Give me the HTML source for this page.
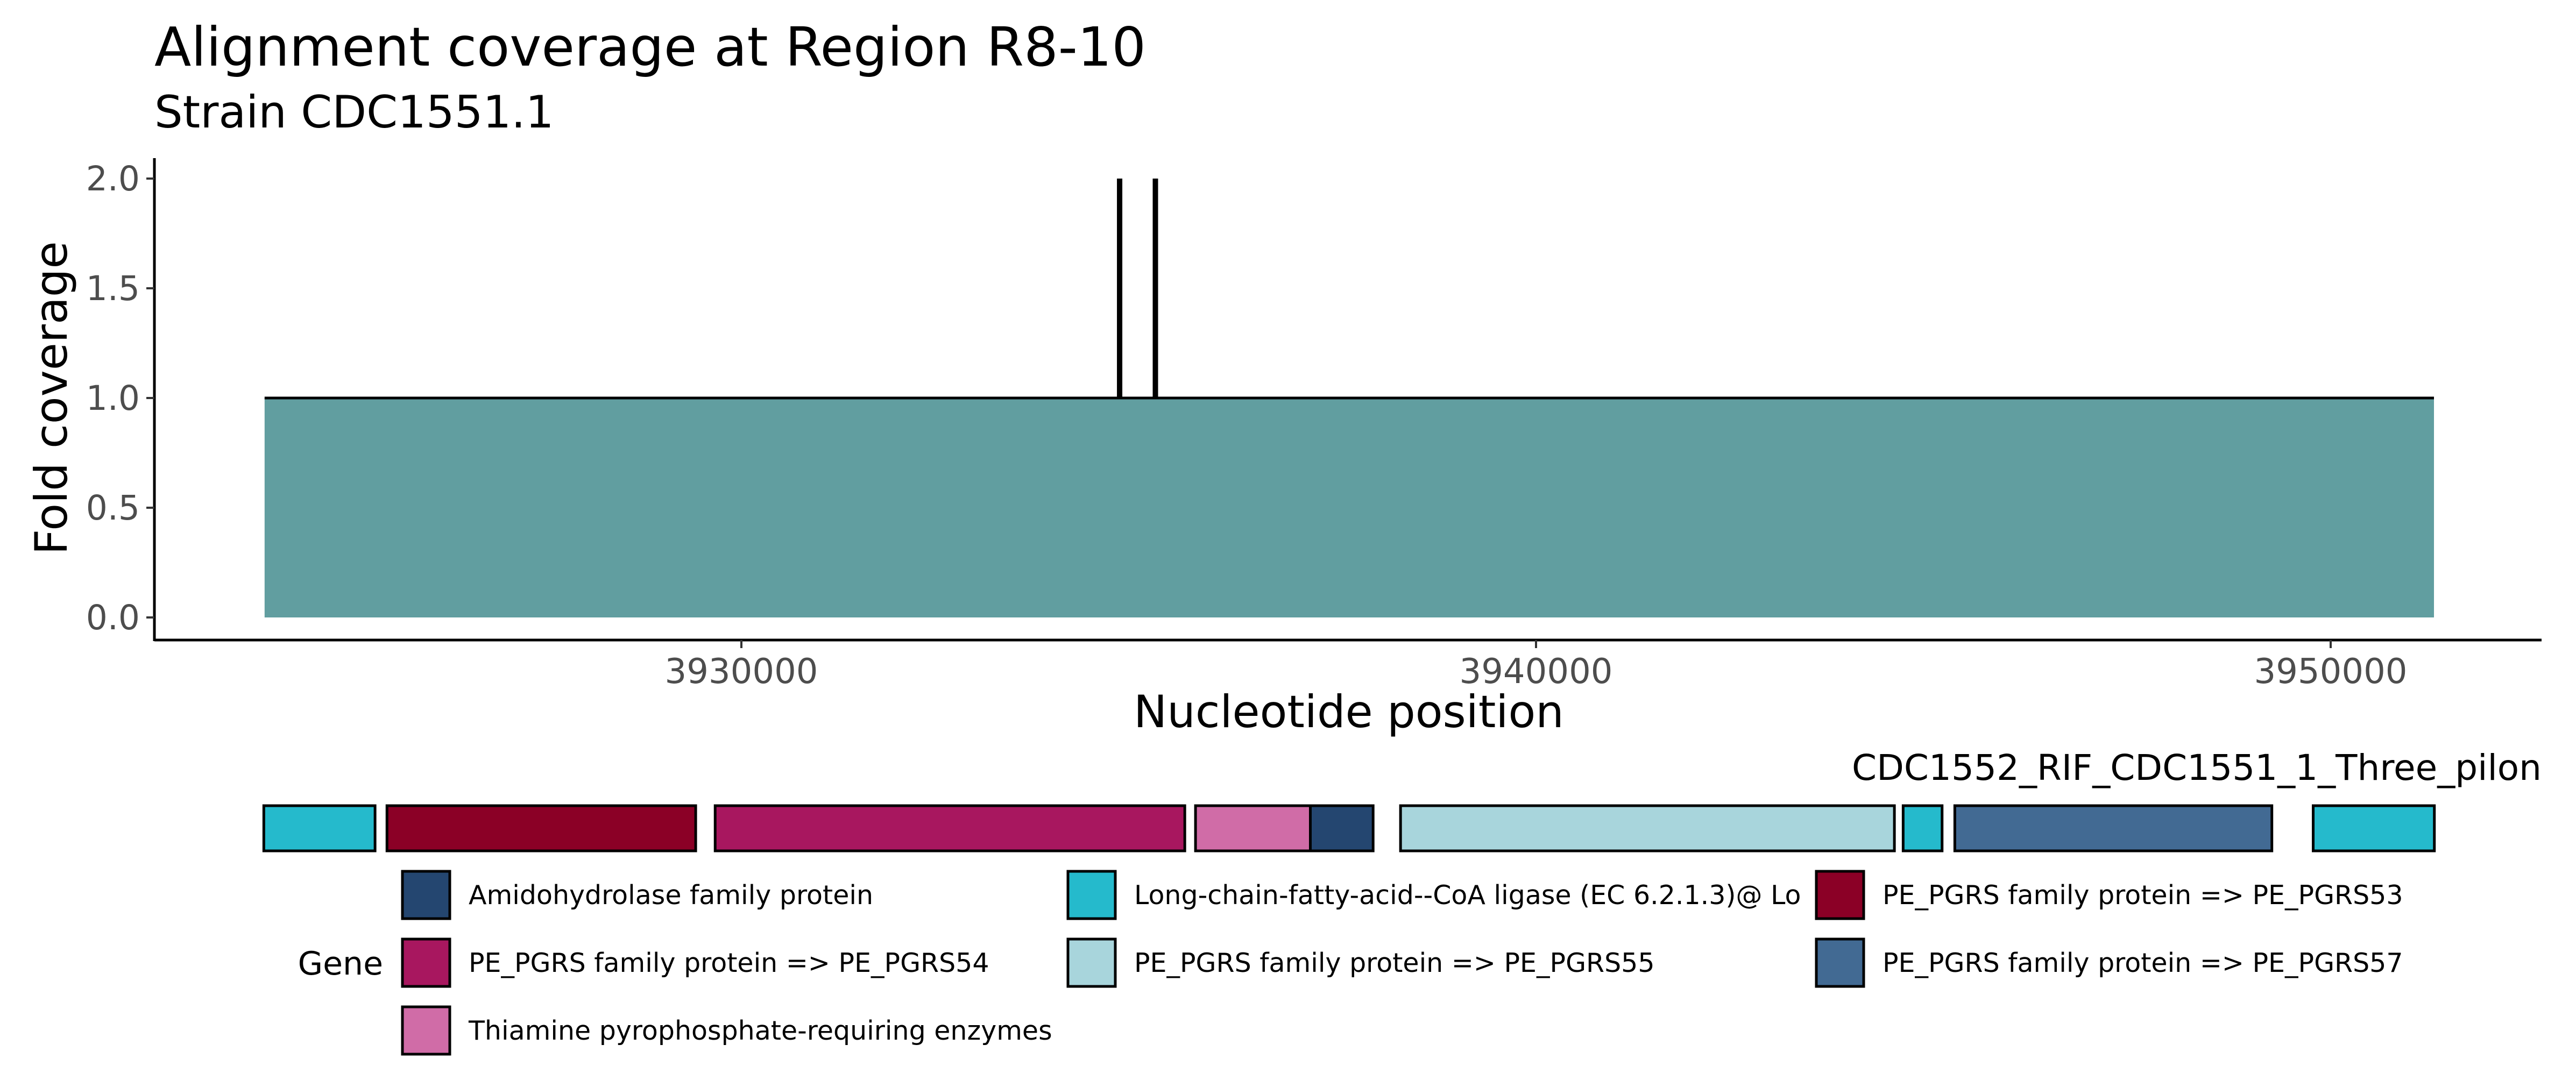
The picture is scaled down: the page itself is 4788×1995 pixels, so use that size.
<!DOCTYPE html>
<html><head><meta charset="utf-8"><style>
html,body{margin:0;padding:0;background:#fff}
svg{display:block;font-family:"DejaVu Sans","Liberation Sans",sans-serif}
</style></head><body>
<svg id="chart" width="4788" height="1995" viewBox="0 0 4788 1995">
<rect width="4788" height="1995" fill="#fff"/>
<text x="287" y="122" font-size="100" fill="#000">Alignment coverage at Region R8-10</text>
<text x="287" y="237" font-size="83" fill="#000">Strain CDC1551.1</text>
<g id="plot"></g>
<g id="xaxis"></g>
<g id="yaxis"></g>
<text x="2507" y="1352" font-size="83" text-anchor="middle">Nucleotide position</text>
<text transform="translate(124,740) rotate(-90)" font-size="83" text-anchor="middle">Fold coverage</text>
<text x="4724" y="1450" font-size="66" text-anchor="end">CDC1552_RIF_CDC1551_1_Three_pilon</text>
<g id="genes"></g>
<g id="legend"></g>
</svg>
<script>
const xTicks = [3930000, 3940000, 3950000];
const yTicks = [0, 0.5, 1.0, 1.5, 2.0];
const yTickLabels = ["0.0", "0.5", "1.0", "1.5", "2.0"];
const covStart = [3924000];
const covEnd = [3951300];
const covValue = [1];
const spikePos = [3934760, 3935210];
const spikeValue = [2, 2];
const geneStart = [3923990, 3925540, 3929670, 3935715, 3937160, 3938295, 3944620, 3945270, 3949780];
const geneEnd = [3925390, 3929425, 3935580, 3937160, 3937950, 3944510, 3945110, 3949260, 3951305];
const geneType = ["lcfa", "p53", "p54", "thi", "ami", "p55", "lcfa", "p57", "lcfa"];
const legendKeys = ["ami", "lcfa", "p53", "p54", "p55", "p57", "thi"];
const legendLabels = ["Amidohydrolase family protein", "Long-chain-fatty-acid--CoA ligase (EC 6.2.1.3)@ Lo", "PE_PGRS family protein => PE_PGRS53", "PE_PGRS family protein => PE_PGRS54", "PE_PGRS family protein => PE_PGRS55", "PE_PGRS family protein => PE_PGRS57", "Thiamine pyrophosphate-requiring enzymes"];
const colors = {ami:"#244670", lcfa:"#25bacc", p53:"#8b0026", p54:"#a8175f", p55:"#a8d5dc", p57:"#426a93", thi:"#d06ca7"};

const NS = "http://www.w3.org/2000/svg";
function X(v){ return 1378 + (v - 3930000) / 10000 * 1477; }
function Y(v){ return 1148 - v * 408; }
function mk(tag, attrs, parent){ const e = document.createElementNS(NS, tag); for (const k in attrs) e.setAttribute(k, attrs[k]); parent.appendChild(e); return e; }

const plot = document.getElementById('plot');
for (let i = 0; i < covStart.length; i++) {
  const r = mk('rect', {x: X(covStart[i]), y: Y(covValue[i]), width: X(covEnd[i]) - X(covStart[i]), height: Y(0) - Y(covValue[i]), fill: '#619ea0'}, plot);
  
  
  const l = mk('line', {x1: X(covStart[i]), x2: X(covEnd[i]), y1: Y(covValue[i]), y2: Y(covValue[i]), stroke: '#000', 'stroke-width': 5}, plot);
  
  
}
for (let i = 0; i < spikePos.length; i++) {
  const s = mk('line', {x1: X(spikePos[i]), x2: X(spikePos[i]), y1: Y(1), y2: Y(spikeValue[i]), stroke: '#000', 'stroke-width': 10}, plot);
  
  
}

const xa = document.getElementById('xaxis');
mk('line', {x1: 287, x2: 4724, y1: 1190, y2: 1190, stroke: '#000', 'stroke-width': 5}, xa);
xTicks.forEach(t => {
  mk('line', {x1: X(t), x2: X(t), y1: 1190, y2: 1205, stroke: '#333', 'stroke-width': 4}, xa);
  const tx = mk('text', {x: X(t), y: 1270, 'font-size': 64, fill: '#4d4d4d', 'text-anchor': 'middle'}, xa);
  tx.textContent = t;
  
  
});
const ya = document.getElementById('yaxis');
mk('line', {x1: 287, x2: 287, y1: 294, y2: 1192, stroke: '#000', 'stroke-width': 5}, ya);
yTicks.forEach((t, i) => {
  mk('line', {x1: 272, x2: 287, y1: Y(t), y2: Y(t), stroke: '#333', 'stroke-width': 4}, ya);
  const tx = mk('text', {x: 260, y: Y(t) + 22, 'font-size': 63, fill: '#4d4d4d', 'text-anchor': 'end'}, ya);
  tx.textContent = yTickLabels[i];
  
  
});

const g = document.getElementById('genes');
for (let i = 0; i < geneStart.length; i++) {
  const r = mk('rect', {x: X(geneStart[i]), y: 1498, width: X(geneEnd[i]) - X(geneStart[i]), height: 84, fill: colors[geneType[i]], stroke: '#000', 'stroke-width': 5}, g);
  
  
}

const lg = document.getElementById('legend');
const gt = mk('text', {x: 712, y: 1812, 'font-size': 60, 'text-anchor': 'end'}, lg);
gt.textContent = 'Gene';


const colX = [748, 1985, 3376];
const rowY = [1620, 1746, 1872];
legendKeys.forEach((k, i) => {
  const c = i % 3, r = Math.floor(i / 3);
  const x = colX[c], y = rowY[r];
  const key = mk('rect', {x: x, y: y, width: 88, height: 88, fill: colors[k], stroke: '#000', 'stroke-width': 5}, lg);
  
  
  const t = mk('text', {x: x + 123, y: y + 61, 'font-size': 49}, lg);
  t.textContent = legendLabels[i];
  
  
});
</script>
</body></html>
